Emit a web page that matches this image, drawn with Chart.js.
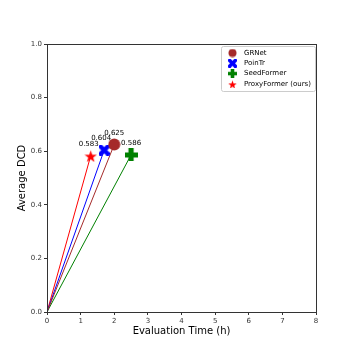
<!DOCTYPE html>
<html>
<head>
<meta charset="utf-8">
<script src="https://cdn.jsdelivr.net/npm/chart.js@4.4.1/dist/chart.umd.min.js"></script>
<style>
  html, body { margin: 0; padding: 0; background: #fff; }
  #wrap { width: 354px; height: 354px; }
</style>
</head>
<body>
<div id="wrap"><canvas id="chart" width="354" height="354"></canvas></div>
<script>
const metodos = ['GRNet', 'PoinTr', 'SeedFormer', 'ProxyFormer (ours)'];
const tiempos = [2.0, 1.7, 2.5, 1.3];
const dcd = [0.625, 0.604, 0.586, 0.583];
const colores = ['#a52a2a', '#0000ff', '#008000', '#ff0000'];
const xTicks = [0, 1, 2, 3, 4, 5, 6, 7, 8];
const yTicks = [0.0, 0.2, 0.4, 0.6, 0.8, 1.0];

// marcadores rellenos dibujados a mano
function crearMarcador(tipo, color, s) {
    const c = document.createElement('canvas');
    c.width = s; c.height = s;
    const g = c.getContext('2d');
    g.fillStyle = color;
    const h = s / 2;
    g.beginPath();
    if (tipo === 'circle') {
        g.arc(h, h, h - 0.5, 0, Math.PI * 2);
    } else if (tipo === 'x') {
        const w = s * 0.2;
        g.translate(h, h);
        g.rotate(Math.PI / 4);
        g.rect(-h * 1.3, -w, h * 2.6, w * 2);
        g.rect(-w, -h * 1.3, w * 2, h * 2.6);
    } else if (tipo === 'plus') {
        const w = s * 0.2;
        g.rect(0, h - w, s, w * 2);
        g.rect(h - w, 0, w * 2, s);
    } else if (tipo === 'star') {
        for (let i = 0; i < 10; i++) {
            const r = i % 2 === 0 ? h : h * 0.4;
            const a = -Math.PI / 2 + i * Math.PI / 5;
            const px = h + r * Math.cos(a), py = h + 1 + r * Math.sin(a);
            if (i === 0) g.moveTo(px, py); else g.lineTo(px, py);
        }
        g.closePath();
    }
    g.fill();
    return c;
}

const tipos = ['circle', 'x', 'plus', 'star'];
const tamanos = [13, 11, 13, 13];
const marcadores = tipos.map((t, i) => crearMarcador(t, colores[i], tamanos[i]));
const iconosLeyenda = tipos.map((t, i) => crearMarcador(t, colores[i], 9));

const datasets = [];
// lineas desde el origen
metodos.forEach((m, i) => {
    datasets.push({
        label: m + ' linea',
        data: [{ x: 0, y: 0 }, { x: tiempos[i], y: dcd[i] }],
        showLine: true,
        borderColor: colores[i],
        borderWidth: 1,
        pointRadius: 0,
        order: 2
    });
});
// marcadores
metodos.forEach((m, i) => {
    datasets.push({
        label: m,
        data: [{ x: tiempos[i], y: dcd[i] }],
        pointStyle: marcadores[i],
        pointRadius: 6,
        order: 1
    });
});

const etiquetas = {
    id: 'etiquetas',
    afterDatasetsDraw(chart) {
        const ctx = chart.ctx;
        const xs = chart.scales.x, ys = chart.scales.y;
        const a = chart.chartArea;
        ctx.save();
        // marco completo
        ctx.strokeStyle = '#333';
        ctx.lineWidth = 1;
        ctx.strokeRect(Math.round(a.left) + 0.5, Math.round(a.top) + 0.5,
            Math.round(a.right - a.left), Math.round(a.bottom - a.top));

        ctx.font = '7px "DejaVu Sans"';
        ctx.fillStyle = '#000';
        ctx.textAlign = 'center';
        ctx.textBaseline = 'bottom';
        const offs = [[0, -8], [-3, -8], [0, -8], [-2, -8]];
        metodos.forEach((m, i) => {
            const px = xs.getPixelForValue(tiempos[i]);
            const py = ys.getPixelForValue(dcd[i]);
            ctx.fillText(dcd[i].toFixed(3), px + offs[i][0], py + offs[i][1]);
        });
        // leyenda
        const bx = 221, by = 46, bw = 94, bh = 45;
        ctx.fillStyle = 'rgba(255,255,255,0.8)';
        ctx.strokeStyle = '#cccccc';
        ctx.beginPath();
        ctx.roundRect(bx + 0.5, by + 0.5, bw, bh, 2);
        ctx.fill();
        ctx.stroke();
        ctx.textAlign = 'left';
        ctx.textBaseline = 'middle';
        ctx.fillStyle = '#000';
        metodos.forEach((m, i) => {
            const ly = by + 7 + i * 10.3;
            ctx.drawImage(iconosLeyenda[i], bx + 7, ly - 4.5);
            ctx.fillText(m, bx + 23, ly);
        });
        ctx.restore();
    }
};

const ejeGrid = { display: true, drawOnChartArea: false, drawTicks: true, tickLength: 3, color: '#333' };

new Chart(document.getElementById('chart'), {
    type: 'scatter',
    data: { datasets: datasets },
    options: {
        responsive: false,
        animation: false,
        devicePixelRatio: 1,
        layout: { padding: { left: 16, right: 38, top: 44, bottom: 17 } },
        plugins: { legend: { display: false }, tooltip: { enabled: false } },
        scales: {
            x: {
                min: 0, max: 8,
                afterBuildTicks: s => { s.ticks = xTicks.map(v => ({ value: v })); },
                afterFit: s => { s.height = 25; },
                grid: ejeGrid,
                border: { color: '#333', width: 1 },
                ticks: {
                    color: '#333', font: { size: 7, family: 'DejaVu Sans' }, padding: 2,
                    callback: v => v
                },
                title: { display: true, text: 'Evaluation Time (h)', color: '#000', font: { size: 10, family: 'DejaVu Sans' }, padding: { top: 0, bottom: 0 } }
            },
            y: {
                min: 0, max: 1,
                afterBuildTicks: s => { s.ticks = yTicks.map(v => ({ value: v })); },
                afterFit: s => { s.width = 31; },
                grid: ejeGrid,
                border: { color: '#333', width: 1 },
                ticks: {
                    color: '#333', font: { size: 7, family: 'DejaVu Sans' }, padding: 2,
                    callback: v => v.toFixed(1)
                },
                title: { display: true, text: 'Average DCD', color: '#000', font: { size: 10, family: 'DejaVu Sans' }, padding: { top: 0, bottom: 0 } }
            }
        }
    },
    plugins: [etiquetas]
});
</script>
</body>
</html>
